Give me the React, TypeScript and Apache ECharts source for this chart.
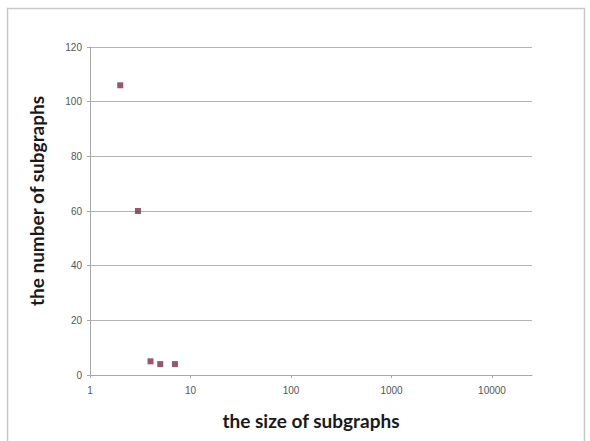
import React, { useEffect, useRef } from "react";
import * as echarts from "echarts";

const sizes = [2, 3, 4, 5, 7];
const counts = [106, 60, 5, 4, 4];
const yTicks = [0, 20, 40, 60, 80, 100, 120];
const xTitle = "the size of subgraphs";
const yTitle = "the number of subgraphs";

export default function App() {
  const ref = useRef<HTMLDivElement>(null);
  useEffect(() => {
    const chart = echarts.init(ref.current!, undefined, { renderer: "svg" });
    chart.setOption({
      animation: false,
      backgroundColor: "#ffffff",
      grid: { left: 90, right: 58, top: 47, bottom: 66 },
      graphic: [
        {
          type: "rect",
          shape: { x: 7.5, y: 8.5, width: 577, height: 440 },
          style: { fill: "none", stroke: "#c8c8c8", lineWidth: 1.5 },
          silent: true,
        },
      ],
      xAxis: {
        type: "log",
        logBase: 10,
        min: 1,
        max: 25000,
        name: xTitle,
        nameLocation: "middle",
        nameGap: 36,
        nameTextStyle: { fontFamily: "Lato", fontWeight: "bold", fontSize: 19, color: "#1a1a1a" },
        axisLine: { show: true, lineStyle: { color: "#a8a8a8", width: 1 } },
        axisTick: { show: true, length: 3, lineStyle: { color: "#a8a8a8" } },
        minorTick: { show: false },
        splitLine: { show: false },
        axisLabel: {
          showMaxLabel: false,
          fontFamily: "Liberation Sans",
          fontSize: 10,
          color: "#555",
          margin: 10,
          formatter: (v: number) => String(Math.round(v)),
        },
      },
      yAxis: {
        type: "value",
        min: 0,
        max: 120,
        interval: 20,
        name: yTitle,
        nameLocation: "middle",
        nameGap: 44,
        nameRotate: 90,
        nameTextStyle: {
          fontFamily: "Lato",
          fontWeight: "bold",
          fontSize: 19,
          color: "#1a1a1a",
          padding: [0, 0, 0, 20],
        },
        axisLine: { show: true, lineStyle: { color: "#a8a8a8", width: 1 } },
        axisTick: { show: true, length: 3, lineStyle: { color: "#a8a8a8" } },
        splitLine: { show: true, lineStyle: { color: "#b4b4b4", width: 1 } },
        axisLabel: {
          fontFamily: "Liberation Sans",
          fontSize: 10,
          color: "#555",
          margin: 8,
          formatter: (v: number) => (yTicks.includes(v) ? String(v) : ""),
        },
      },
      series: [
        {
          type: "scatter",
          symbol: "rect",
          symbolSize: 6,
          itemStyle: { color: "#7a3045" },
          data: sizes.map((s, i) => [s, counts[i]]),
        },
      ],
    });
    return () => chart.dispose();
  }, []);
  return (
    <div
      ref={ref}
      style={{ position: "absolute", left: 0, top: 0, width: 590, height: 441 }}
    />
  );
}
